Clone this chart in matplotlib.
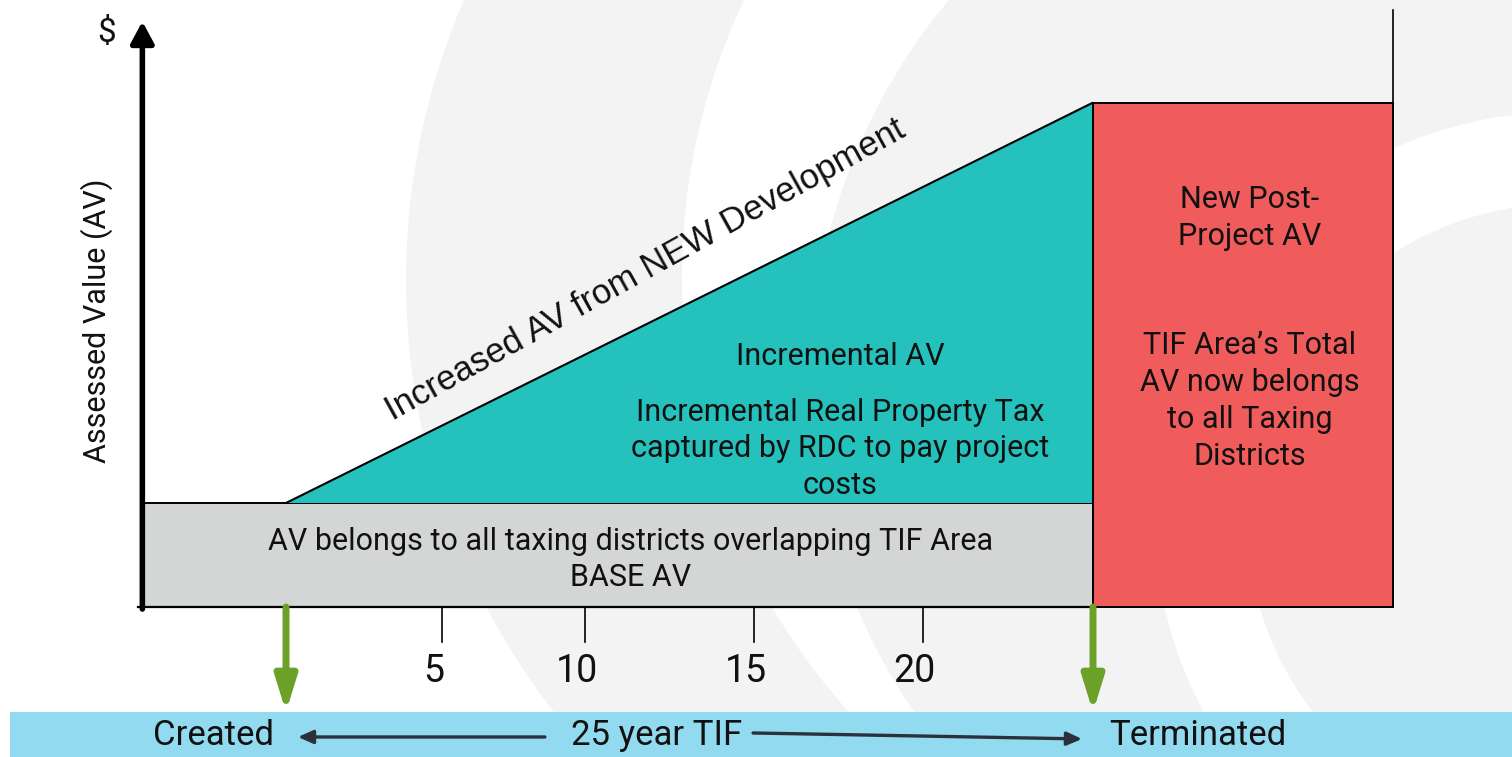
import matplotlib
matplotlib.use("Agg")
import matplotlib.pyplot as plt
from matplotlib.patches import Polygon, Rectangle, Circle, Wedge

# ---------------- data ----------------
created_year = 0
terminated_year = 25
post_end_year = 34.3          # right edge of the post-project block
base_av = 20
final_av = 97
tick_labels = ["5", "10", "15", "20"]
tick_years = [4.83, 9.26, 14.5, 19.73]   # where the tick marks sit in the picture

# ---------------- layout ----------------
W, H = 1512, 757
fig = plt.figure(figsize=(W / 100, H / 100), dpi=100)
fig.patch.set_facecolor("white")

# background watermark (pixel coordinates)
bg = fig.add_axes([0, 0, 1, 1], zorder=0)
bg.set_xlim(0, W)
bg.set_ylim(H, 0)
bg.axis("off")
grey_bg = "#f3f3f3"
bg.add_patch(Circle((1111, 280), 705, color=grey_bg, lw=0))
bg.add_patch(Circle((1332, 277), 650, color="white", lw=0))
bg.add_patch(Circle((1401, 379), 590, color=grey_bg, lw=0))
bg.add_patch(Wedge((1562, 519), 407, 130, 280, width=92, color="white", lw=0))

ax = fig.add_axes([0, 0, 1, 1], zorder=1)
ax.patch.set_alpha(0)
ax.set_xlim(-8.86, 37.98)
ax.set_ylim(-28.85, 116.73)
ax.axis("off")

FONT = "Roboto"
TXT = "#111111"
axis_x = -4.45
teal = "#25c2bd"
red = "#f05c5c"
base_grey = "#d4d6d6"
green = "#6ba029"
band_blue = "#92daef"
dark = "#2b303b"

# base AV block
ax.add_patch(Rectangle((axis_x, 0), terminated_year - axis_x, base_av,
                       facecolor=base_grey, edgecolor="black", lw=1.4, zorder=2))
# incremental AV triangle
ax.add_patch(Polygon([(created_year, base_av), (terminated_year, final_av),
                      (terminated_year, base_av)], closed=True,
                     facecolor=teal, edgecolor="none", zorder=2))
ax.plot([created_year, terminated_year], [base_av, final_av], color="black",
        lw=1.5, zorder=3, solid_capstyle="butt")
# post-project block
ax.add_patch(Rectangle((terminated_year, 0), post_end_year - terminated_year, final_av,
                       facecolor=red, edgecolor="black", lw=1.4, zorder=2))
ax.plot([post_end_year, post_end_year], [0, 114.8], color="black", lw=1.2, zorder=3)

# axes lines
ax.plot([-4.6, terminated_year], [0, 0], color="black", lw=1.6, zorder=4)
ax.annotate("", xy=(axis_x, 112.6), xytext=(axis_x, -0.4),
            arrowprops=dict(arrowstyle="-|>,head_length=13,head_width=7",
                            mutation_scale=1, lw=4, color="black",
                            shrinkA=0, shrinkB=0), zorder=5)
ax.text(-5.55, 110.4, "$", fontsize=24, family=FONT, ha="center", va="center",
        color=TXT)
ax.text(-5.85, 55, "Assessed Value (AV)", fontsize=22, family=FONT, rotation=90,
        ha="center", va="center", color=TXT)

# ticks
for tx, lab in zip(tick_years, tick_labels):
    ax.plot([tx, tx], [0, -6.73], color="black", lw=1.2, zorder=3)
    ax.text(tx - 0.25, -12.5, lab, fontsize=27, family=FONT, ha="center",
            va="center", color=TXT)

# green arrows
for gx in (created_year, terminated_year):
    ax.annotate("", xy=(gx, -20.2), xytext=(gx, 0),
                arrowprops=dict(arrowstyle="-|>,head_length=21,head_width=6.5",
                                mutation_scale=1, lw=5, color=green,
                                shrinkA=0, shrinkB=0), zorder=4)

# bottom band
ax.add_patch(Rectangle((-8.55, -28.85), 50, 28.85 - 20.2, facecolor=band_blue,
                       edgecolor="none", zorder=1))
band_y = -24.8
ax.text(-2.26, band_y, "Created", fontsize=25, family=FONT, ha="center",
        va="center", color=TXT, zorder=5)
ax.text(11.49, band_y, "25 year TIF", fontsize=25, family=FONT, ha="center",
        va="center", color=TXT, zorder=5)
ax.text(28.25, band_y, "Terminated", fontsize=25, family=FONT, ha="center",
        va="center", color=TXT, zorder=5)
ax.annotate("", xy=(0.37, -25.0), xytext=(8.02, -25.0),
            arrowprops=dict(arrowstyle="-|>,head_length=9,head_width=4",
                            mutation_scale=1, lw=2.4, color=dark,
                            shrinkA=0, shrinkB=0), zorder=5)
ax.annotate("", xy=(24.66, -25.38), xytext=(14.47, -24.23),
            arrowprops=dict(arrowstyle="-|>,head_length=9,head_width=4",
                            mutation_scale=1, lw=2.4, color=dark,
                            shrinkA=0, shrinkB=0), zorder=5)

# labels
LS = 1.34
ax.text(11.12, 64.8, "Increased AV from NEW Development", fontsize=25,
        family="Liberation Sans", rotation=29, rotation_mode="anchor",
        ha="center", va="center", color=TXT, zorder=5)
ax.text(17.16, 48.1, "Incremental AV", fontsize=22, family=FONT,
        ha="center", va="center", color=TXT, zorder=5)
ax.text(17.16, 30.4, "Incremental Real Property Tax\ncaptured by RDC to pay project\ncosts",
        fontsize=22, family=FONT, ha="center", va="center", linespacing=LS,
        color=TXT, zorder=5)
ax.text(10.66, 9.13, "AV belongs to all taxing districts overlapping TIF Area\nBASE AV",
        fontsize=22, family=FONT, ha="center", va="center", linespacing=LS,
        color=TXT, zorder=5)
ax.text(29.86, 74.8, "New Post-\nProject AV", fontsize=22, family=FONT,
        ha="center", va="center", linespacing=LS, color=TXT, zorder=5)
ax.text(29.86, 39.6, "TIF Area\u2019s Total\nAV now belongs\nto all Taxing\nDistricts",
        fontsize=22, family=FONT, ha="center", va="center", linespacing=LS,
        color=TXT, zorder=5)

fig.savefig("out.png", dpi=100, facecolor="white")
